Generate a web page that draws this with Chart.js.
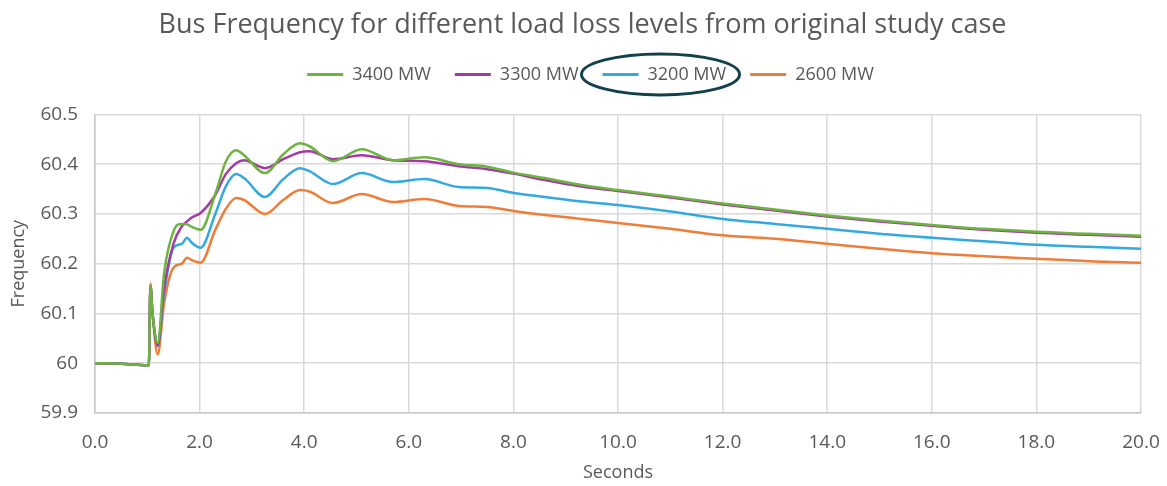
<!DOCTYPE html>
<html>
<head>
<meta charset="utf-8">
<script src="https://cdn.jsdelivr.net/npm/chart.js@4.4.1/dist/chart.umd.min.js"></script>
<style>
  html, body { margin: 0; padding: 0; background: #ffffff; }
  #wrap { width: 1167px; height: 486px; position: relative; }
</style>
</head>
<body>
<div id="wrap"><canvas id="c" width="1167" height="486"></canvas></div>
<script>
// Simulation time samples (seconds)
const seconds = [0, 0.5, 1.0, 1.03, 1.06, 1.1, 1.2, 1.32, 1.5, 1.66, 1.76, 1.85, 2.02, 2.3, 2.5, 2.7, 2.85, 3.25, 3.6, 3.92, 4.1, 4.55, 5.1, 5.7, 6.3, 6.95, 7.5, 8.0, 8.6, 9.3, 10, 11, 12, 13, 14, 15, 16, 17, 18, 19, 20];

// Bus frequency (Hz) for each load loss level
const freq3400 = [60.0, 59.999, 59.996, 59.996, 60.155, 60.10, 60.04, 60.18, 60.265, 60.28, 60.279, 60.274, 60.268, 60.34, 60.405, 60.428, 60.418, 60.382, 60.42, 60.442, 60.436, 60.406, 60.43, 60.408, 60.414, 60.40, 60.395, 60.383, 60.372, 60.358, 60.348, 60.335, 60.321, 60.309, 60.297, 60.287, 60.278, 60.27, 60.264, 60.26, 60.256];
const freq3300 = [60.0, 59.999, 59.996, 59.996, 60.155, 60.10, 60.035, 60.15, 60.24, 60.275, 60.285, 60.293, 60.302, 60.338, 60.38, 60.402, 60.408, 60.392, 60.41, 60.424, 60.426, 60.41, 60.418, 60.408, 60.406, 60.396, 60.39, 60.381, 60.368, 60.355, 60.346, 60.333, 60.319, 60.307, 60.295, 60.285, 60.276, 60.268, 60.262, 60.258, 60.254];
const freq3200 = [60.0, 59.999, 59.996, 59.996, 60.155, 60.10, 60.035, 60.14, 60.232, 60.24, 60.252, 60.242, 60.232, 60.30, 60.355, 60.38, 60.372, 60.334, 60.37, 60.392, 60.386, 60.36, 60.382, 60.364, 60.37, 60.354, 60.352, 60.342, 60.334, 60.325, 60.318, 60.305, 60.29, 60.28, 60.27, 60.26, 60.252, 60.245, 60.238, 60.234, 60.23];
const freq2600 = [60.0, 59.999, 59.996, 59.996, 60.16, 60.10, 60.018, 60.12, 60.192, 60.20, 60.212, 60.207, 60.202, 60.268, 60.31, 60.332, 60.328, 60.30, 60.328, 60.348, 60.345, 60.322, 60.34, 60.324, 60.33, 60.316, 60.314, 60.306, 60.298, 60.29, 60.282, 60.27, 60.257, 60.25, 60.24, 60.23, 60.221, 60.215, 60.21, 60.205, 60.202];

const seriesNames = ['3400 MW', '3300 MW', '3200 MW', '2600 MW'];
const seriesColors = ['#6cb33f', '#a43ba4', '#33a9e0', '#ef7d3a'];

// Axis tick labels
const xTickLabels = ['0.0', '2.0', '4.0', '6.0', '8.0', '10.0', '12.0', '14.0', '16.0', '18.0', '20.0'];
const yTickLabels = ['59.9', '60', '60.1', '60.2', '60.3', '60.4', '60.5'];

const FONT = "'Open Sans', 'DejaVu Sans', sans-serif";
const TEXT = '#595959';
const LEGEND_SHIFT = 20;
const TITLE_SHIFT = 12;

const allSeries = [freq3400, freq3300, freq3200, freq2600];
const datasets = allSeries.map((vals, i) => ({
  label: seriesNames[i],
  data: seconds.map((t, k) => ({ x: t, y: vals[k] })),
  borderColor: seriesColors[i],
  backgroundColor: seriesColors[i],
  borderWidth: 2.5,
  pointRadius: 0,
  cubicInterpolationMode: 'monotone',
  fill: false
}));

function shiftDraw(box, dx) {
  const draw = box.draw;
  box.draw = function () {
    const ctx = this.ctx;
    ctx.save();
    ctx.translate(dx, 0);
    draw.apply(this, arguments);
    ctx.restore();
  };
}

// Extra space below the legend row, and horizontal centring of title and legend on the canvas
const headerTweak = {
  id: 'headerTweak',
  beforeInit(chart) {
    const lg = chart.legend;
    if (lg) {
      const fit = lg.fit;
      lg.fit = function () {
        fit.call(this);
        this.height += 21;
      };
      shiftDraw(lg, LEGEND_SHIFT);
    }
    if (chart.titleBlock) shiftDraw(chart.titleBlock, TITLE_SHIFT);
  }
};

// Ring drawn around the highlighted 3200 MW legend entry
const legendRing = {
  id: 'legendRing',
  afterDraw(chart) {
    const lg = chart.legend;
    if (!lg || !lg.legendHitBoxes) return;
    const idx = seriesNames.indexOf('3200 MW');
    const hb = lg.legendHitBoxes[idx];
    if (!hb) return;
    const ctx = chart.ctx;
    const cx = hb.left + LEGEND_SHIFT + 58;
    const cy = hb.top + hb.height / 2;
    ctx.save();
    ctx.beginPath();
    ctx.ellipse(cx, cy, 79, 20.5, 0, 0, Math.PI * 2);
    ctx.lineWidth = 3;
    ctx.strokeStyle = '#12414d';
    ctx.stroke();
    ctx.restore();
  }
};

new Chart(document.getElementById('c'), {
  type: 'line',
  data: { datasets },
  plugins: [headerTweak, legendRing],
  options: {
    responsive: false,
    animation: false,
    devicePixelRatio: 1,
    layout: { padding: { left: 0, right: 26, top: 4, bottom: 0 } },
    plugins: {
      title: {
        display: true,
        text: 'Bus Frequency for different load loss levels from original study case',
        color: TEXT,
        font: { family: FONT, size: 27, weight: 'normal' },
        padding: { top: 5, bottom: 0 }
      },
      legend: {
        display: true,
        position: 'top',
        labels: {
          color: TEXT,
          font: { family: FONT, size: 18 },
          boxWidth: 36,
          boxHeight: 3,
          padding: 24,
          generateLabels(chart) {
            const items = Chart.defaults.plugins.legend.labels.generateLabels(chart);
            items.forEach(it => { it.fillStyle = it.strokeStyle; it.lineWidth = 0; });
            return items;
          }
        }
      },
      tooltip: { enabled: false }
    },
    scales: {
      x: {
        type: 'linear',
        min: 0,
        max: 20,
        afterBuildTicks(scale) {
          scale.ticks = xTickLabels.map(v => ({ value: parseFloat(v) }));
        },
        afterFit(scale) {
          scale.height = 73;
          scale.paddingRight = 0;
          scale.paddingLeft = 0;
        },
        ticks: {
          color: TEXT,
          font: { family: FONT, size: 19 },
          padding: 18,
          maxRotation: 0,
          autoSkip: false,
          callback: (v) => xTickLabels.find(l => parseFloat(l) === v)
        },
        grid: { color: '#d9d9d9', lineWidth: 1.5, drawTicks: false },
        border: { color: '#c8c8c8', width: 1.5 },
        title: {
          display: true,
          text: 'Seconds',
          color: TEXT,
          font: { family: FONT, size: 18 },
          padding: { top: 0, bottom: 2 }
        }
      },
      y: {
        min: 59.9,
        max: 60.5,
        afterBuildTicks(scale) {
          scale.ticks = yTickLabels.map(v => ({ value: parseFloat(v) }));
        },
        afterFit(scale) { scale.width = 95; },
        ticks: {
          color: TEXT,
          font: { family: FONT, size: 19 },
          padding: 17,
          autoSkip: false,
          callback: (v) => yTickLabels.find(l => Math.abs(parseFloat(l) - v) < 1e-6)
        },
        grid: { color: '#d9d9d9', lineWidth: 1.5, drawTicks: false },
        border: { color: '#c8c8c8', width: 1.5 },
        title: {
          display: true,
          text: 'Frequency',
          color: TEXT,
          font: { family: FONT, size: 18 },
          padding: { top: 8, bottom: 0 }
        }
      }
    }
  }
});
</script>
</body>
</html>
